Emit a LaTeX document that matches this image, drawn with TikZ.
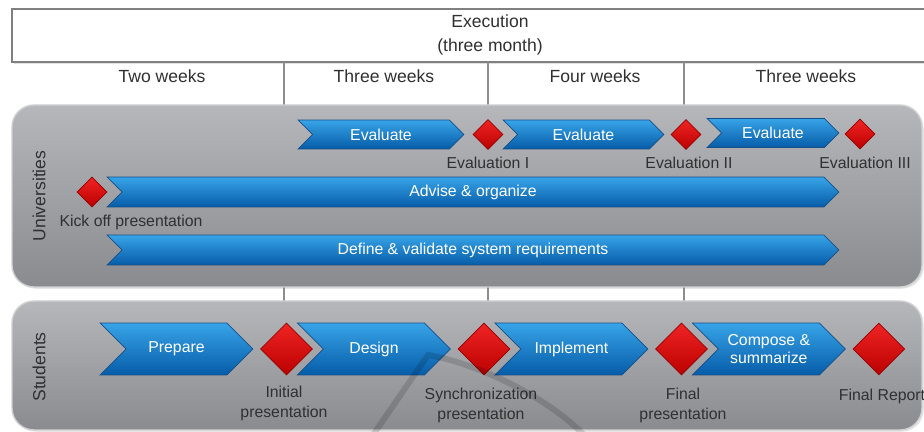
\documentclass[tikz,border=0pt]{standalone}
\usepackage{fontspec}
\setmainfont{Liberation Sans}
\usetikzlibrary{shapes.geometric,shapes.symbols,shadows}
\definecolor{chevtop}{RGB}{56,164,232}
\definecolor{chevbot}{RGB}{6,92,168}
\definecolor{chevedge}{RGB}{22,78,136}
\definecolor{redtop}{RGB}{240,36,36}
\definecolor{redbot}{RGB}{186,0,0}
\definecolor{rededge}{RGB}{150,0,0}
\definecolor{lanetop}{RGB}{182,183,187}
\definecolor{lanebot}{RGB}{138,139,143}
\definecolor{laneedge}{RGB}{208,208,211}
\definecolor{framegray}{RGB}{128,128,128}
\definecolor{textgray}{RGB}{48,48,48}
\tikzstyle{frame} = [draw=framegray, line width=1.2pt, fill=white, drop shadow={opacity=0.25, shadow xshift=1pt, shadow yshift=-1pt}]
\tikzstyle{lane} = [rounded corners=0.44cm, draw=laneedge, line width=0.8pt, top color=lanetop, bottom color=lanebot, drop shadow={opacity=0.2, shadow xshift=1pt, shadow yshift=-1pt}]
\tikzstyle{divider} = [draw=framegray!90, line width=1.7pt]
\tikzstyle{watermark} = [draw=black, opacity=0.14, line width=3.4pt]
\tikzstyle{headtext} = [text=textgray, align=center, font=\fontsize{10}{13.6}\selectfont]
\tikzstyle{weektext} = [text=textgray, font=\fontsize{10}{12}\selectfont]
\tikzstyle{lanetitle} = [text=textgray, rotate=90, font=\fontsize{10}{12}\selectfont]
\tikzstyle{phase} = [signal, signal to=east, signal from=west, signal pointer angle=90, inner sep=0pt, draw=chevedge, line width=0.4pt, top color=chevtop, bottom color=chevbot, text=white, align=center, font=\fontsize{9}{10.5}\selectfont]
\tikzstyle{milestone} = [diamond, aspect=1, inner sep=0pt, draw=rededge, line width=0.4pt, top color=redtop, bottom color=redbot]
\tikzstyle{mslabel} = [text=textgray, align=center, inner sep=0pt, font=\fontsize{9}{11.3}\selectfont]

\begin{document}
\begin{tikzpicture}[x=0.02cm, y=-0.02cm, node distance=3.95cm]
\useasboundingbox (0,0) rectangle (924,432);
\clip (0,0) rectangle (924,432);

% header and time slots
\draw [frame] (12,9) rectangle (945,62);
\node (exec) [headtext] at (490,35) {Execution\\(three month)};
\node (wk1) [weektext] at (162,76) {Two weeks};
\node (wk2) [weektext] at (384,76) {Three weeks};
\node (wk3) [weektext] at (595,76) {Four weeks};
\node (wk4) [weektext] at (806,76) {Three weeks};

\draw [divider] (284,62) -- (284,108);
\draw [divider] (488,62) -- (488,108);
\draw [divider] (684,62) -- (684,108);
\draw [divider] (284,284) -- (284,304);
\draw [divider] (488,284) -- (488,304);
\draw [divider] (684,284) -- (684,304);

% lanes
\draw [lane] (12,105) rectangle (922,287);
\draw [lane] (12,301) rectangle (922,430);
\node (unis) [lanetitle] at (39,196) {Universities};
\node (studs) [lanetitle] at (39,367) {Students};

% universities
\node (eval1) [phase, minimum width=3.32cm, minimum height=0.58cm] at (381,134.5) {Evaluate};
\node (eval2) [phase, minimum width=3.22cm, minimum height=0.58cm] at (583.5,134.5) {Evaluate};
\node (eval3) [phase, minimum width=2.64cm, minimum height=0.58cm] at (773,133) {Evaluate};
\node (evms1) [milestone, minimum size=0.6cm] at (488,134.5) {};
\node (evms2) [milestone, minimum size=0.6cm] at (686,134.5) {};
\node (evms3) [milestone, minimum size=0.6cm] at (860,134) {};
\node (evlbl1) [mslabel] at (488,163) {Evaluation I};
\node (evlbl2) [mslabel] at (689,163) {Evaluation II};
\node (evlbl3) [mslabel] at (865,163) {Evaluation III};

\node (kickoff) [milestone, minimum size=0.6cm] at (92,192) {};
\node (kicklbl) [mslabel] at (131,222) {Kick off presentation};
\node (advise) [phase, minimum width=14.64cm, minimum height=0.6cm] at (473,192) {Advise \& organize};
\node (define) [phase, minimum width=14.64cm, minimum height=0.6cm] at (473,250) {Define \& validate system requirements};

% students
\node (prepare) [phase, minimum width=3.06cm, minimum height=1.04cm] at (176.5,349) {Prepare};
\node (design) [phase, minimum width=3.06cm, minimum height=1.04cm, right of=prepare] {Design};
\node (implement) [phase, minimum width=3.06cm, minimum height=1.04cm, right of=design] {Implement};
\node (compose) [phase, minimum width=3.06cm, minimum height=1.04cm, right of=implement] {Compose \&\\summarize};

\node (initial) [milestone, minimum size=1.04cm] at (286.5,349) {};
\node (sync) [milestone, minimum size=1.04cm, right of=initial] {};
\node (final) [milestone, minimum size=1.04cm, right of=sync] {};
\node (report) [milestone, minimum size=1.04cm, right of=final] {};

\node (initlbl) [mslabel] at (284,403) {Initial\\presentation};
\node (synclbl) [mslabel] at (481,405) {Synchronization\\presentation};
\node (finallbl) [mslabel] at (683,405) {Final\\presentation};
\node (reportlbl) [mslabel] at (882,396) {Final Report};

% faint mark behind the students lane
\draw [watermark] (373,435) -- (428,355) .. controls (475,363) and (545,395) .. (584,435);
\end{tikzpicture}
\end{document}
